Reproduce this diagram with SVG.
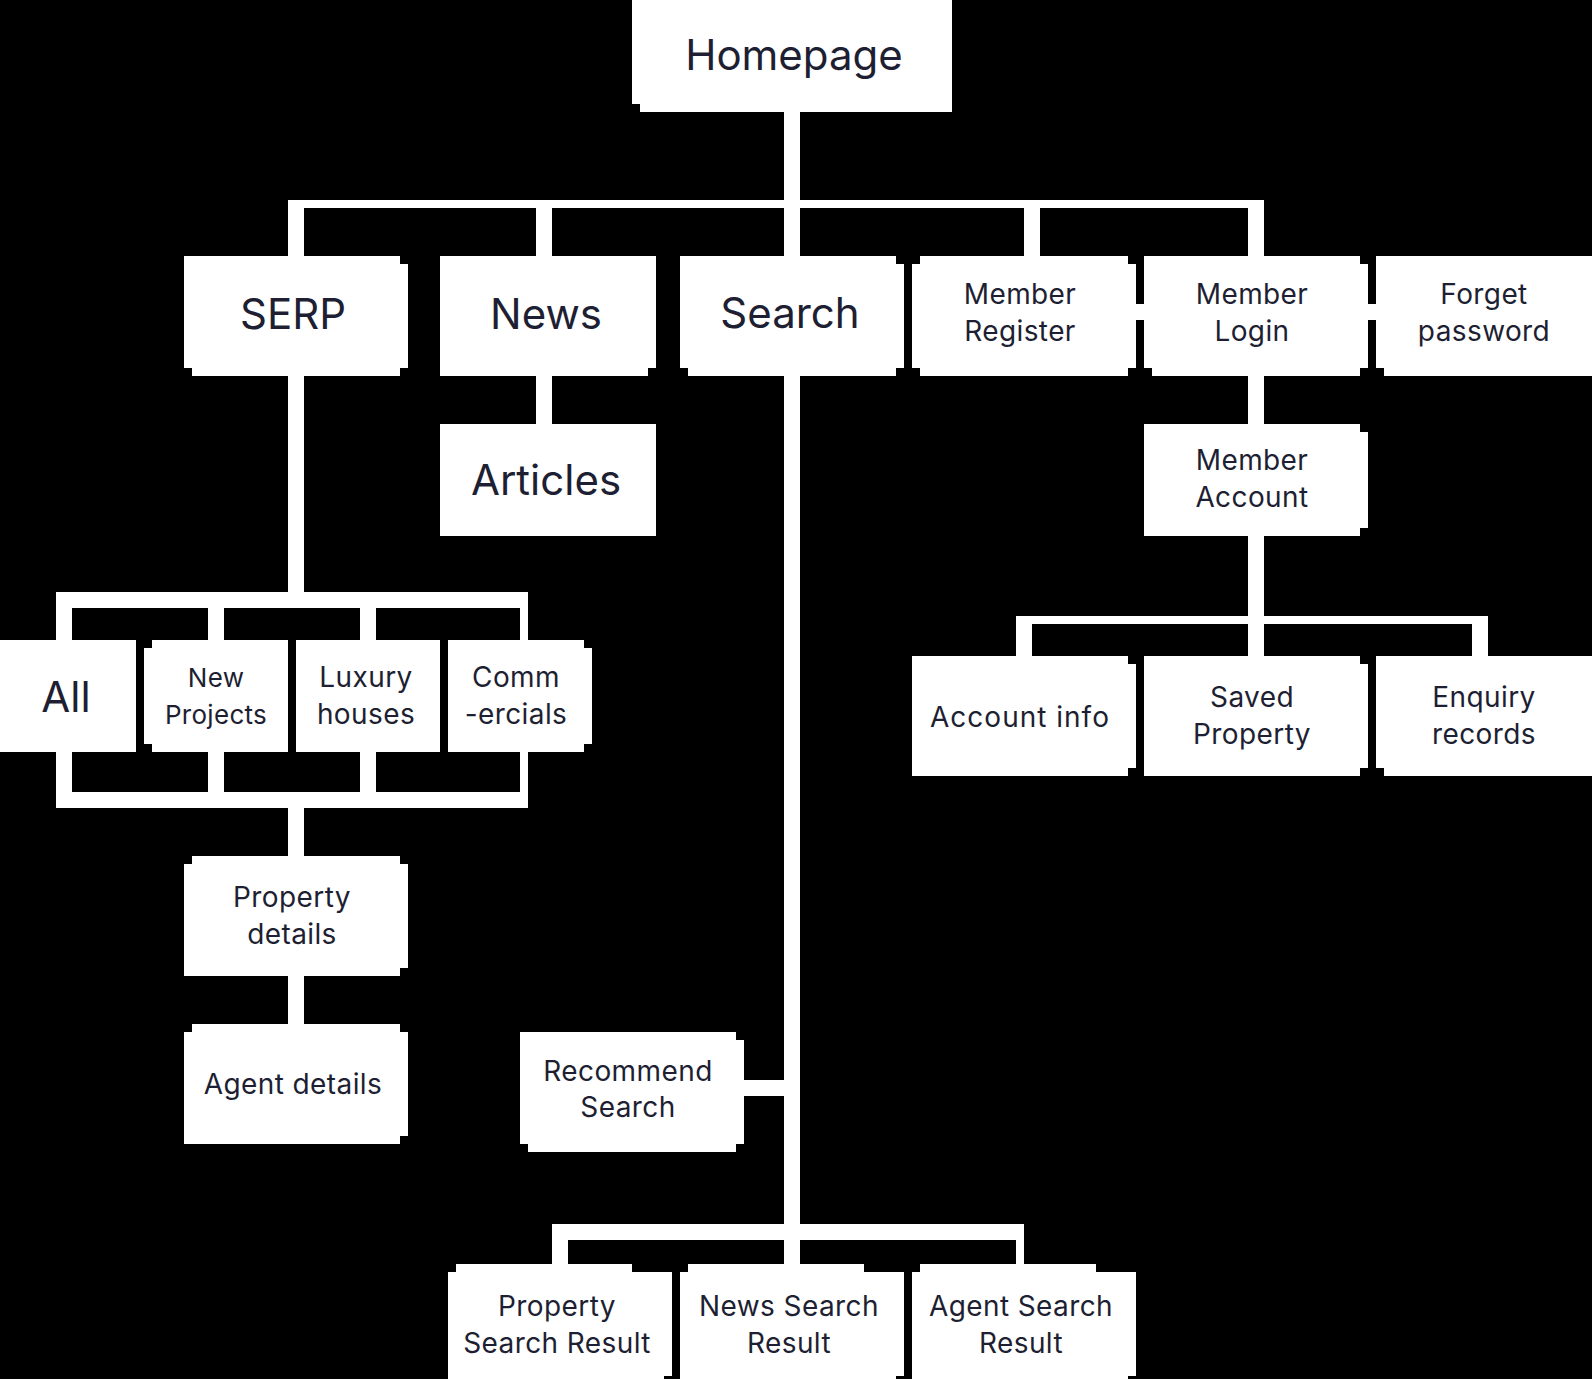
<svg xmlns="http://www.w3.org/2000/svg" width="1592" height="1379" viewBox="0 0 1592 1379">
<style>
.bg{fill:#000}
.box{fill:#fff}
.n{fill:#000}
.w{fill:#fff}
.t{font-family:Inter,"Noto Sans","Liberation Sans",sans-serif;fill:#1e1f33;text-anchor:middle;font-weight:400}
.big{font-size:42px}
.mid{font-size:28px;letter-spacing:0.4px}
.sm{font-size:26px;letter-spacing:0.3px}
</style>
<rect class="bg" x="0" y="0" width="1592" height="1379"/>
<g id="connectors">
<rect class="w" x="784" y="112" width="16" height="144"/>
<rect class="w" x="784" y="376" width="16" height="888"/>
<rect class="w" x="288" y="200" width="976" height="8"/>
<rect class="w" x="288" y="200" width="16" height="56"/>
<rect class="w" x="536" y="200" width="16" height="56"/>
<rect class="w" x="1024" y="200" width="16" height="56"/>
<rect class="w" x="1248" y="200" width="16" height="56"/>
<rect class="w" x="1136" y="304" width="8" height="16"/>
<rect class="w" x="1368" y="304" width="8" height="16"/>
<rect class="w" x="536" y="376" width="16" height="48"/>
<rect class="w" x="1248" y="376" width="16" height="48"/>
<rect class="w" x="1248" y="536" width="16" height="120"/>
<rect class="w" x="1016" y="616" width="472" height="8"/>
<rect class="w" x="1016" y="616" width="16" height="40"/>
<rect class="w" x="1472" y="616" width="16" height="40"/>
<rect class="w" x="288" y="376" width="16" height="216"/>
<rect class="w" x="56" y="592" width="472" height="16"/>
<rect class="w" x="56" y="608" width="16" height="32"/>
<rect class="w" x="208" y="608" width="16" height="32"/>
<rect class="w" x="360" y="608" width="16" height="32"/>
<rect class="w" x="520" y="608" width="8" height="32"/>
<rect class="w" x="56" y="752" width="16" height="40"/>
<rect class="w" x="208" y="752" width="16" height="40"/>
<rect class="w" x="360" y="752" width="16" height="40"/>
<rect class="w" x="520" y="752" width="8" height="40"/>
<rect class="w" x="56" y="792" width="472" height="16"/>
<rect class="w" x="288" y="808" width="16" height="48"/>
<rect class="w" x="288" y="976" width="16" height="48"/>
<rect class="w" x="744" y="1080" width="40" height="16"/>
<rect class="w" x="552" y="1224" width="472" height="16"/>
<rect class="w" x="552" y="1240" width="16" height="24"/>
<rect class="w" x="1016" y="1240" width="8" height="24"/>
</g>
<g id="homepage">
<rect class="box" x="632" y="0" width="320" height="112"/>
<rect class="n" x="632" y="104" width="8" height="8"/>
<text class="t big" x="794" y="70">Homepage</text>
</g>
<g id="serp">
<rect class="box" x="184" y="256" width="224" height="120"/>
<rect class="n" x="400" y="256" width="8" height="8"/>
<rect class="n" x="184" y="368" width="8" height="8"/>
<rect class="n" x="400" y="368" width="8" height="8"/>
<text class="t big" x="293" y="329">SERP</text>
</g>
<g id="news">
<rect class="box" x="440" y="256" width="216" height="120"/>
<rect class="n" x="648" y="368" width="8" height="8"/>
<text class="t big" x="546" y="329">News</text>
</g>
<g id="search">
<rect class="box" x="680" y="256" width="224" height="120"/>
<rect class="n" x="896" y="256" width="8" height="8"/>
<rect class="n" x="680" y="368" width="8" height="8"/>
<rect class="n" x="896" y="368" width="8" height="8"/>
<text class="t big" x="790" y="328">Search</text>
</g>
<g id="member-register">
<rect class="box" x="912" y="256" width="224" height="120"/>
<rect class="n" x="912" y="256" width="8" height="8"/>
<rect class="n" x="1128" y="256" width="8" height="8"/>
<rect class="n" x="912" y="368" width="8" height="8"/>
<rect class="n" x="1128" y="368" width="8" height="8"/>
<text class="t mid" x="1020" y="304">Member</text>
<text class="t mid" x="1020" y="341">Register</text>
</g>
<g id="member-login">
<rect class="box" x="1144" y="256" width="224" height="120"/>
<rect class="n" x="1360" y="256" width="8" height="8"/>
<rect class="n" x="1144" y="368" width="8" height="8"/>
<rect class="n" x="1360" y="368" width="8" height="8"/>
<text class="t mid" x="1252" y="304">Member</text>
<text class="t mid" x="1252" y="341">Login</text>
</g>
<g id="forget-password">
<rect class="box" x="1376" y="256" width="216" height="120"/>
<rect class="n" x="1376" y="368" width="8" height="8"/>
<text class="t mid" x="1484" y="304">Forget</text>
<text class="t mid" x="1484" y="341">password</text>
</g>
<g id="articles">
<rect class="box" x="440" y="424" width="216" height="112"/>
<text class="t big" x="546" y="495">Articles</text>
</g>
<g id="member-account">
<rect class="box" x="1144" y="424" width="224" height="112"/>
<rect class="n" x="1360" y="424" width="8" height="8"/>
<rect class="n" x="1360" y="528" width="8" height="8"/>
<text class="t mid" x="1252" y="470">Member</text>
<text class="t mid" x="1252" y="507">Account</text>
</g>
<g id="all">
<rect class="box" x="0" y="640" width="136" height="112"/>
<text class="t big" x="66" y="712">All</text>
</g>
<g id="new-projects">
<rect class="box" x="144" y="640" width="144" height="112"/>
<rect class="n" x="144" y="640" width="8" height="8"/>
<rect class="n" x="144" y="744" width="8" height="8"/>
<text class="t sm" x="216" y="687">New</text>
<text class="t sm" x="216" y="724">Projects</text>
</g>
<g id="luxury-houses">
<rect class="box" x="296" y="640" width="144" height="112"/>
<text class="t mid" x="366" y="687">Luxury</text>
<text class="t mid" x="366" y="724">houses</text>
</g>
<g id="commercials">
<rect class="box" x="448" y="640" width="144" height="112"/>
<rect class="n" x="584" y="640" width="8" height="8"/>
<rect class="n" x="584" y="744" width="8" height="8"/>
<text class="t mid" x="516" y="687">Comm</text>
<text class="t mid" x="516" y="724">-ercials</text>
</g>
<g id="account-info">
<rect class="box" x="912" y="656" width="224" height="120"/>
<rect class="n" x="1128" y="656" width="8" height="8"/>
<rect class="n" x="1128" y="768" width="8" height="8"/>
<text class="t mid" x="1020" y="727" style="letter-spacing:1px">Account info</text>
</g>
<g id="saved-property">
<rect class="box" x="1144" y="656" width="224" height="120"/>
<rect class="n" x="1360" y="656" width="8" height="8"/>
<rect class="n" x="1360" y="768" width="8" height="8"/>
<text class="t mid" x="1252" y="707">Saved</text>
<text class="t mid" x="1252" y="744">Property</text>
</g>
<g id="enquiry-records">
<rect class="box" x="1376" y="656" width="216" height="120"/>
<rect class="n" x="1376" y="768" width="8" height="8"/>
<text class="t mid" x="1484" y="707">Enquiry</text>
<text class="t mid" x="1484" y="744">records</text>
</g>
<g id="property-details">
<rect class="box" x="184" y="856" width="224" height="120"/>
<rect class="n" x="184" y="856" width="8" height="8"/>
<rect class="n" x="400" y="856" width="8" height="8"/>
<rect class="n" x="400" y="968" width="8" height="8"/>
<text class="t mid" x="292" y="907">Property</text>
<text class="t mid" x="292" y="944">details</text>
</g>
<g id="agent-details">
<rect class="box" x="184" y="1024" width="224" height="120"/>
<rect class="n" x="184" y="1024" width="8" height="8"/>
<rect class="n" x="400" y="1024" width="8" height="8"/>
<rect class="n" x="400" y="1136" width="8" height="8"/>
<text class="t mid" x="293" y="1094">Agent details</text>
</g>
<g id="recommend-search">
<rect class="box" x="520" y="1032" width="224" height="120"/>
<rect class="n" x="736" y="1032" width="8" height="8"/>
<rect class="n" x="520" y="1144" width="8" height="8"/>
<rect class="n" x="736" y="1144" width="8" height="8"/>
<text class="t mid" x="628" y="1081">Recommend</text>
<text class="t mid" x="628" y="1117">Search</text>
</g>
<g id="property-search-result">
<rect class="box" x="448" y="1264" width="224" height="115"/>
<rect class="n" x="448" y="1264" width="8" height="8"/>
<rect class="n" x="632" y="1264" width="40" height="8"/>
<rect class="n" x="664" y="1376" width="8" height="3"/>
<text class="t mid" x="557" y="1316">Property</text>
<text class="t mid" x="557" y="1353">Search Result</text>
</g>
<g id="news-search-result">
<rect class="box" x="680" y="1264" width="224" height="115"/>
<rect class="n" x="680" y="1264" width="8" height="8"/>
<rect class="n" x="864" y="1264" width="40" height="8"/>
<rect class="n" x="896" y="1376" width="8" height="3"/>
<text class="t mid" x="789" y="1316">News Search</text>
<text class="t mid" x="789" y="1353">Result</text>
</g>
<g id="agent-search-result">
<rect class="box" x="912" y="1264" width="224" height="115"/>
<rect class="n" x="912" y="1264" width="8" height="8"/>
<rect class="n" x="1096" y="1264" width="40" height="8"/>
<rect class="n" x="1128" y="1376" width="8" height="3"/>
<text class="t mid" x="1021" y="1316">Agent Search</text>
<text class="t mid" x="1021" y="1353">Result</text>
</g>
</svg>
